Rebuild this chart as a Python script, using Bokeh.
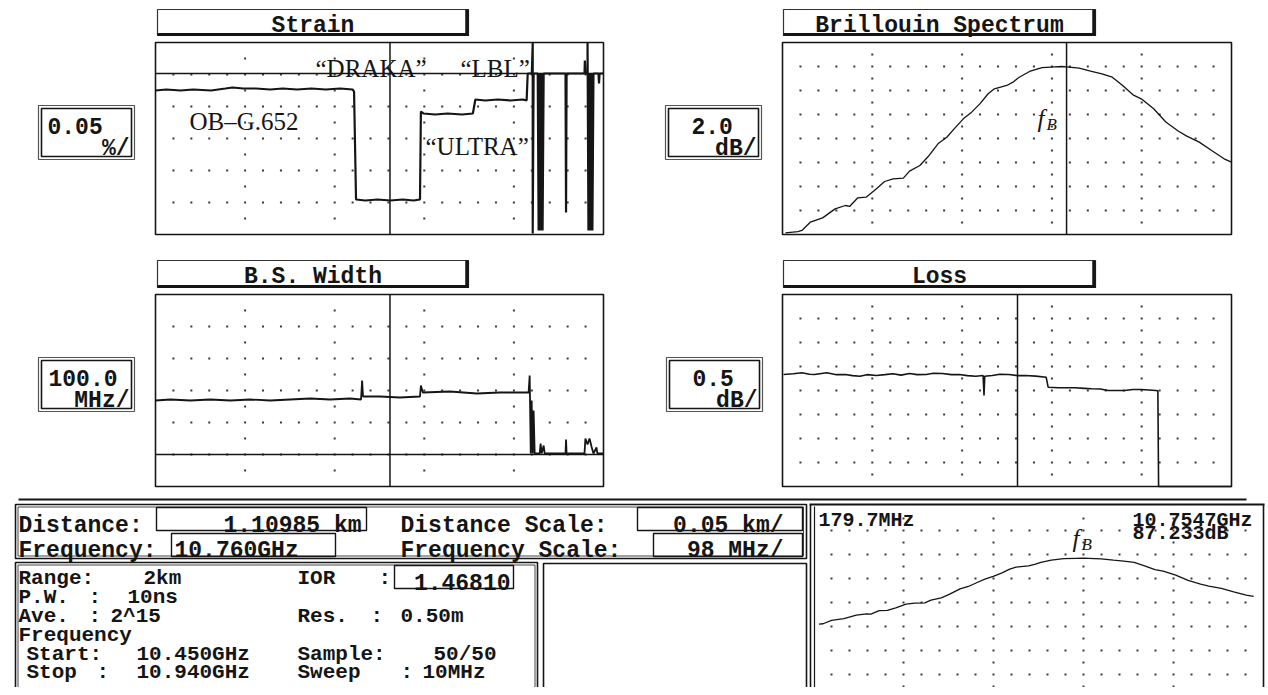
from bokeh.plotting import figure
from bokeh.models import Range1d
from bokeh.core.properties import value
from bokeh.embed import file_html
from bokeh.resources import INLINE

# ---------------- data ----------------
cursor_km = 1.10985          # distance cursor
cursor_ghz = 10.760          # frequency cursor
peak_ghz = 10.7547           # fB
peak_db = 87.233

dist_start = 0.979           # km at left edge of distance panels
dist_div = 0.05              # km / div
freq_start, freq_stop = 10.450, 10.940
freq_div = 0.098             # GHz / div
strain_div = 0.05            # % / div
spec_div = 2.0               # dB / div
bsw_div = 100.0              # MHz / div
loss_div = 0.5               # dB / div
zoom_div = 5.0               # dB / div (small spectrum)

strain_km = [0.9790, 0.9850, 0.9930, 1.0000, 1.0100, 1.0180, 1.0220, 1.0280, 1.0350, 1.0430,
             1.0500, 1.0580, 1.0660, 1.0740, 1.0820, 1.0890, 1.0898, 1.0909, 1.0960, 1.1030,
             1.1100, 1.1170, 1.1230, 1.1266, 1.1271, 1.1285, 1.1350, 1.1420, 1.1500, 1.1561,
             1.1575, 1.1630, 1.1700, 1.1770, 1.1840, 1.1861, 1.1867, 1.1890, 1.1895, 1.1895,
             1.1900, 1.1923, 1.1928, 1.1934, 1.1939, 1.1945, 1.1950, 1.1956, 1.2078, 1.2081,
             1.2084, 1.2184, 1.2186, 1.2189, 1.2201, 1.2201, 1.2206, 1.2212, 1.2217, 1.2223,
             1.2228, 1.2234, 1.2262, 1.2265, 1.2268, 1.2290]
strain_pct = [0.0750, 0.0766, 0.0750, 0.0766, 0.0750, 0.0781, 0.0797, 0.0781, 0.0781, 0.0766,
              0.0781, 0.0766, 0.0781, 0.0766, 0.0781, 0.0766, 0.0734, -0.0953, -0.0969, -0.0953,
              -0.0969, -0.0953, -0.0969, -0.0953, 0.0422, 0.0391, 0.0375, 0.0391, 0.0375, 0.0391,
              0.0609, 0.0594, 0.0609, 0.0594, 0.0609, 0.0594, 0.1016, 0.1016, 0.1500, -0.1484,
              0.1016, 0.1016, -0.1438, 0.1016, -0.1438, 0.1016, -0.1438, 0.1016, 0.1016, -0.1156,
              0.1016, 0.1016, 0.1219, 0.1016, 0.1016, 0.1500, -0.1438, 0.1016, -0.1438, 0.1016,
              -0.1438, 0.1016, 0.1016, 0.0859, 0.1016, 0.1016]

bsw_km = [0.9790, 0.9874, 0.9985, 1.0096, 1.0208, 1.0319, 1.0430, 1.0542, 1.0653, 1.0764,
          1.0876, 1.0937, 1.0943, 1.0948, 1.1043, 1.1154, 1.1266, 1.1271, 1.1282, 1.1433,
          1.1583, 1.1711, 1.1872, 1.1878, 1.1884, 1.1889, 1.1895, 1.1900, 1.1906, 1.1934,
          1.1939, 1.1945, 1.1956, 1.1962, 1.2078, 1.2081, 1.2084, 1.2184, 1.2189, 1.2201,
          1.2212, 1.2223, 1.2234, 1.2251, 1.2256, 1.2290]
bsw_mhz = [168.8, 171.9, 168.8, 171.9, 168.8, 171.9, 168.8, 171.9, 175.0, 171.9,
           175.0, 171.9, 231.3, 181.3, 181.3, 178.1, 181.3, 215.6, 193.8, 196.9,
           190.6, 193.8, 193.8, 246.9, 3.1, 168.8, 3.1, 137.5, 3.1, 3.1,
           34.4, 3.1, 28.1, 3.1, 3.1, 46.9, 3.1, 3.1, 50.0, 31.3,
           50.0, 25.0, 3.1, 21.9, 3.1, 3.1]

loss_km = [0.9796, 0.9850, 0.9898, 0.9940, 0.9968, 1.0037, 1.0090, 1.0140, 1.0180, 1.0221,
           1.0260, 1.0313, 1.0360, 1.0405, 1.0450, 1.0497, 1.0540, 1.0590, 1.0630, 1.0681,
           1.0730, 1.0774, 1.0820, 1.0866, 1.0907, 1.0912, 1.0916, 1.0958, 1.1000, 1.1050,
           1.1100, 1.1142, 1.1200, 1.1258, 1.1269, 1.1327, 1.1419, 1.1470, 1.1511, 1.1560,
           1.1603, 1.1696, 1.1740, 1.1788, 1.1830, 1.1868, 1.1880, 1.1884, 1.2290]
loss_db = [2.333, 2.350, 2.369, 2.340, 2.333, 2.369, 2.330, 2.333, 2.310, 2.298,
           2.330, 2.313, 2.330, 2.348, 2.320, 2.354, 2.330, 2.333, 2.360, 2.354,
           2.330, 2.333, 2.310, 2.298, 2.313, 1.896, 2.298, 2.313, 2.340, 2.333,
           2.310, 2.313, 2.300, 2.277, 2.069, 2.056, 2.056, 2.045, 2.035, 2.030,
           2.000, 2.000, 2.020, 2.021, 2.010, 2.000, 1.994, 0.000, 0.000]

spec_ghz = [10.4532, 10.4667, 10.4712, 10.4803, 10.4938, 10.5074, 10.5186, 10.5232, 10.5322, 10.5412,
            10.5503, 10.5615, 10.5706, 10.5819, 10.5886, 10.5999, 10.6090, 10.6203, 10.6293, 10.6383,
            10.6473, 10.6564, 10.6654, 10.6744, 10.6812, 10.6948, 10.7015, 10.7083, 10.7196, 10.7332,
            10.7467, 10.7547, 10.7602, 10.7738, 10.7873, 10.7986, 10.8099, 10.8212, 10.8325, 10.8415,
            10.8551, 10.8686, 10.8822, 10.8912, 10.9048, 10.9183, 10.9319, 10.9400]
spec_db = [73.37, 73.48, 73.57, 74.26, 74.62, 75.37, 75.65, 75.57, 76.29, 76.34,
           76.90, 77.65, 77.87, 77.93, 78.51, 78.98, 79.73, 80.84, 81.34, 82.12,
           82.87, 83.43, 84.12, 84.96, 85.37, 85.65, 85.93, 86.34, 86.82, 87.14,
           87.21, 87.233, 87.20, 87.09, 86.82, 86.62, 86.34, 85.65, 84.87, 84.54,
           83.71, 82.59, 81.84, 81.43, 80.93, 80.23, 79.54, 79.26]

panel_titles = ["Strain", "Brillouin Spectrum", "B.S. Width", "Loss"]
scale_values = ["0.05", "2.0", "100.0", "0.5"]
scale_units = ["%/", "dB/", "MHz/", "dB/"]
fiber_labels = ["\u201cDRAKA\u201d", "\u201cLBL\u201d", "OB\u2013G.652", "\u201cULTRA\u201d"]
info_words = [["Range:", "2km", "IOR", ":"],
              ["P.W.", ":", "10ns"],
              ["Ave.", ":", "2^15", "Res.", ":", "0.50m"],
              ["Frequency"],
              ["Start:", "10.450GHz", "Sample:", "50/50"],
              ["Stop", ":", "10.940GHz", "Sweep", ":", "10MHz"]]
ior_value = "1.46810"
width_at_cursor = "179.7MHz"

# ---------------- layout (page pixels) ----------------
info_x = [[18, 143, 297, 378],
          [18, 88, 127],
          [18, 88, 110, 297, 370, 400],
          [18],
          [26, 136, 297, 433],
          [26, 96, 136, 297, 400, 422]]
info_baselines = [578, 597, 616, 635, 654, 672]

W, H = 1266, 687
PX0, PY0 = 0, 0
PX1, PY1 = PX0 + W, PY0 + H
INK = "#151515"
MONO = value("Liberation Mono")
SERIF = value("Liberation Serif")

p = figure(width=W, height=H, x_range=Range1d(PX0, PX1), y_range=Range1d(PY1, PY0),
           output_backend="svg", toolbar_location=None, min_border=0,
           x_axis_type=None, y_axis_type=None, outline_line_color=None,
           background_fill_color="white", border_fill_color="white")

xr, yr = {}, {}
PANELS = {}


def panel(name, frame, xlim, ylim, nx, ny):
    L, R, T, B = frame
    x0, x1 = xlim
    y0, y1 = ylim
    sx = (x1 - x0) / (R - L)
    sy = (y1 - y0) / (B - T)
    xr[name] = Range1d(x0 - (L - PX0) * sx, x1 + (PX1 - R) * sx)
    yr[name] = Range1d(y0 - (PY1 - B) * sy, y1 + (T - PY0) * sy)
    PANELS[name] = (frame, xlim, ylim, nx, ny)


dist_lim = (dist_start, dist_start + 5 * dist_div)
panel("strain", (155, 603, 42, 234), dist_lim, (-3 * strain_div, 3 * strain_div), 5, 6)
panel("spec", (782, 1231, 42, 234), (freq_start, freq_stop),
      (peak_db + spec_div - 8 * spec_div, peak_db + spec_div), 5, 8)
panel("bsw", (155, 603, 294, 486), dist_lim, (-1 * bsw_div, 5 * bsw_div), 5, 6)
panel("loss", (782, 1231, 294, 486), dist_lim, (0.0, 8 * loss_div), 5, 8)
zoom_x0 = peak_ghz - 3 * freq_div
panel("zoom", (813, 1263, 506, 698), (zoom_x0, zoom_x0 + 5 * freq_div), (98.0 - 8 * zoom_div, 98.0), 5, 8)
p.extra_x_ranges = xr
p.extra_y_ranges = yr


def mono(x, y, s, size="23px", align="left", color=INK):
    p.text(x=[x], y=[y], text=[s], text_font=MONO, text_font_style="bold",
           text_font_size=size, text_align=align, text_baseline="alphabetic", text_color=color)


def serif(x, y, s, size="25px", style="normal", align="left"):
    p.text(x=[x], y=[y], text=[s], text_font=SERIF, text_font_style=style,
           text_font_size=size, text_align=align, text_baseline="alphabetic", text_color=INK)


def rect(L, R, T, B, lw=1.2, color=INK, fill=None):
    p.quad(left=[L], right=[R], top=[T], bottom=[B], fill_color=fill,
           line_color=color, line_width=lw)


def hline(x0, x1, y, lw=1.2, color=INK):
    p.segment(x0=[x0], y0=[y], x1=[x1], y1=[y], line_color=color, line_width=lw)


def vline(x, y0, y1, lw=1.2, color=INK):
    p.segment(x0=[x], y0=[y0], x1=[x], y1=[y1], line_color=color, line_width=lw)


def dots(name):
    frame, (x0, x1), (y0, y1), nx, ny = PANELS[name]
    dx = (x1 - x0) / (5 * nx)
    dy = (y1 - y0) / ny
    xs, ys = [], []
    for j in range(1, 5 * nx):
        for i in range(1, ny):
            xs.append(x0 + j * dx)
            ys.append(y0 + i * dy)
    for k in range(1, nx):
        for i in range(ny):
            xs.append(x0 + 5 * k * dx)
            ys.append(y0 + (i + 0.5) * dy)
    p.scatter(xs, ys, marker="square", size=2, fill_color="#3a3a3a", line_color=None,
              x_range_name=name, y_range_name=name)


def title_box(L, R, T, B, label):
    rect(L, R, T, B, lw=1.2, color="#333", fill="white")
    vline(R - 1.5, T, B + 0.5, lw=3.5)
    hline(L, R, B - 1, lw=3)
    mono((L + R) / 2, T + 16, label, align="center")


def scale_box(L, R, T, B, top_txt, top_x, bot_txt):
    rect(L, R, T, B, lw=1.2, color="#555")
    rect(L + 3, R - 3, T + 3, B - 3, lw=1.6)
    mono(top_x, T + 20, top_txt)
    mono(R - 5, T + 43, bot_txt, align="right")


# ---------------- top / middle panels ----------------
for name in ["strain", "spec", "bsw", "loss", "zoom"]:
    dots(name)

for name in ["strain", "spec", "bsw", "loss"]:
    (L, R, T, B) = PANELS[name][0]
    rect(L, R, T, B, lw=1.6)

# strain band line and BS zero line
sx0, sx1 = dist_lim
p.segment(x0=[sx0], y0=[0.1016], x1=[sx1], y1=[0.1016], line_color=INK, line_width=1.5,
          x_range_name="strain", y_range_name="strain")
p.segment(x0=[sx0], y0=[0.0], x1=[sx1], y1=[0.0], line_color=INK, line_width=1.5,
          x_range_name="bsw", y_range_name="bsw")

# cursors
for name in ["strain", "bsw", "loss"]:
    _, _, (y0, y1), _, _ = PANELS[name]
    p.segment(x0=[cursor_km], y0=[y0], x1=[cursor_km], y1=[y1], line_color=INK, line_width=1.5,
              x_range_name=name, y_range_name=name)
_, _, (y0, y1), _, _ = PANELS["spec"]
p.segment(x0=[cursor_ghz], y0=[y0], x1=[cursor_ghz], y1=[y1], line_color=INK, line_width=1.5,
          x_range_name="spec", y_range_name="spec")

# traces
p.line(strain_km, strain_pct, line_color=INK, line_width=2.2, x_range_name="strain", y_range_name="strain")
p.line(bsw_km, bsw_mhz, line_color=INK, line_width=1.8, x_range_name="bsw", y_range_name="bsw")
p.line(loss_km, loss_db, line_color=INK, line_width=1.6, x_range_name="loss", y_range_name="loss")
p.line(spec_ghz, spec_db, line_color=INK, line_width=1.3, x_range_name="spec", y_range_name="spec")
zx = [f for f in spec_ghz if f >= zoom_x0]
zy = [d for f, d in zip(spec_ghz, spec_db) if f >= zoom_x0]
p.line(zx, zy, line_color=INK, line_width=1.3, x_range_name="zoom", y_range_name="zoom")

# titles and scale boxes
title_box(157, 468, 9, 35, panel_titles[0])
title_box(783, 1095, 9, 35, panel_titles[1])
title_box(157, 468, 260, 287, panel_titles[2])
title_box(783, 1095, 260, 287, panel_titles[3])

scale_box(38, 134, 105, 159, scale_values[0], 47, scale_units[0])
scale_box(665, 761, 105, 159, scale_values[1], 691, scale_units[1])
scale_box(38, 134, 357, 411, scale_values[2], 48, scale_units[2])
scale_box(666, 762, 357, 411, scale_values[3], 692, scale_units[3])

# fiber labels in strain panel
serif(315, 68, fiber_labels[0])
serif(460, 68, fiber_labels[1])
serif(189, 121, fiber_labels[2])
serif(425, 146, fiber_labels[3])

# fB labels
serif(1037, 118, "f", size="25px", style="italic")
serif(1046, 124, "B", size="17px", style="italic")
serif(1072, 538, "f", size="25px", style="italic")
serif(1081, 544, "B", size="17px", style="italic")

# ---------------- bottom section ----------------
hline(18, 1246, 499, lw=2)

# distance / frequency rows
rect(15, 806, 504, 558, lw=1.6)
rect(17.5, 803, 506.5, 555.5, lw=1.0, color="#444")
mono(18, 525, "Distance:")
rect(156, 366, 507, 530, lw=1.4)
mono(361, 525, "%.5f km" % cursor_km, align="right")
mono(400, 525, "Distance Scale:")
rect(637, 802, 507, 530, lw=1.4)
mono(783, 525, "%.2f km/" % dist_div, align="right")

mono(18, 550, "Frequency:")
rect(171, 335, 533, 556, lw=1.4)
mono(174, 550, "%.3fGHz" % cursor_ghz)
mono(400, 550, "Frequency Scale:")
rect(653, 802, 533, 556, lw=1.4)
mono(783, 550, "%d MHz/" % round(freq_div * 1000), align="right")

# info boxes
rect(15, 537, 562, 720, lw=1.6)
rect(17.5, 534.5, 564.5, 720, lw=1.0, color="#444")
rect(543, 806, 563, 720, lw=1.6)

for words, xs, yb in zip(info_words, info_x, info_baselines):
    for w, x in zip(words, xs):
        mono(x, yb, w, size="21px")
rect(394, 513, 565, 588, lw=1.4)
mono(510, 581, ior_value, align="right")

# small spectrum panel (bottom right)
hline(809, 1264, 504, lw=2.2)
vline(810, 504, 700, lw=1.6)
vline(814, 506, 700, lw=1.2)
vline(1263, 504, 700, lw=1.6)
mono(818, 520, width_at_cursor, size="20px")
mono(1132, 520, "%.4fGHz" % peak_ghz, size="20px")
mono(1132, 533, "%.3fdB" % peak_db, size="20px")

open("out.html", "w").write(file_html(p, INLINE))
